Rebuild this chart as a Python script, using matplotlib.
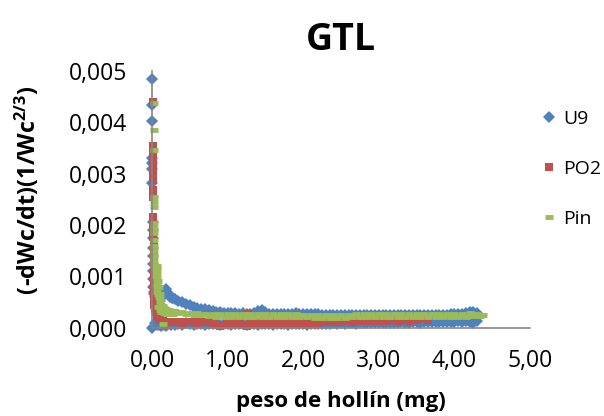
import numpy as np
import matplotlib
matplotlib.use("Agg")
import matplotlib.pyplot as plt

plt.rcParams["font.family"] = ["Open Sans", "DejaVu Sans"]
plt.rcParams["mathtext.fontset"] = "custom"
plt.rcParams["mathtext.rm"] = "Open Sans"
plt.rcParams["mathtext.bf"] = "Open Sans:bold"

# shared x grid for the flat part of the curves (mg)
tail_x = [0.30, 0.35, 0.40, 0.45, 0.50, 0.55, 0.60, 0.65, 0.70, 0.75,
          0.80, 0.85, 0.90, 0.95, 1.00, 1.05, 1.10, 1.15, 1.20, 1.25,
          1.30, 1.35, 1.40, 1.45, 1.50, 1.55, 1.60, 1.65, 1.70, 1.75,
          1.80, 1.85, 1.90, 1.95, 2.00, 2.05, 2.10, 2.15, 2.20, 2.25,
          2.30, 2.35, 2.40, 2.45, 2.50, 2.55, 2.60, 2.65, 2.70, 2.75,
          2.80, 2.85, 2.90, 2.95, 3.00, 3.05, 3.10, 3.15, 3.20, 3.25,
          3.30, 3.35, 3.40, 3.45, 3.50, 3.55, 3.60, 3.65, 3.70, 3.75,
          3.80, 3.85, 3.90, 3.95, 4.00, 4.05, 4.10, 4.15, 4.20, 4.25,
          4.30]

# U9 -- rates in units of 1e-4
u9_head_x = [0.00, 0.00, 0.00, 0.00, 0.00, 0.00, 0.00, 0.00, 0.01, 0.01,
             0.01, 0.01, 0.01, 0.01, 0.01, 0.01, 0.01, 0.02, 0.03, 0.04,
             0.05, 0.06, 0.08, 0.10, 0.12, 0.14, 0.16, 0.18, 0.20, 0.22,
             0.24, 0.26, 0.28, 0.04, 0.06, 0.09, 0.12, 0.15, 0.18, 0.21,
             0.25]
u9_head_y = [48.4, 43.4, 40.2, 33.1, 32.0, 31.0, 28.2, 0.0, 20.5, 19.0,
             17.5, 15.5, 14.0, 12.5, 11.0, 9.5, 8.0, 7.0, 6.5, 6.0,
             5.6, 5.2, 5.0, 5.2, 5.8, 6.6, 7.2, 7.5, 7.0, 6.4,
             6.0, 5.8, 5.7, 1.0, 0.6, 0.5, 0.3, 0.6, 0.4, 0.7,
             0.5]
u9_tail_hi = [5.6, 5.2, 5.0, 4.6, 4.4, 4.1, 3.9, 3.7, 3.6, 3.4,
              3.2, 3.1, 3.0, 2.9, 2.9, 2.8, 2.8, 2.7, 2.8, 2.7,
              2.7, 2.9, 3.3, 3.4, 3.0, 2.7, 2.6, 2.7, 2.6, 2.6,
              2.7, 2.6, 2.9, 2.7, 2.6, 2.6, 2.7, 2.6, 2.6, 2.5,
              2.5, 2.4, 2.5, 2.5, 2.4, 2.5, 2.5, 2.4, 2.5, 2.4,
              2.5, 2.5, 2.4, 2.5, 2.4, 2.4, 2.5, 2.4, 2.4, 2.5,
              2.4, 2.4, 2.4, 2.5, 2.4, 2.4, 2.5, 2.4, 2.4, 2.4,
              2.5, 2.5, 2.5, 2.6, 2.6, 2.7, 2.7, 2.8, 3.1, 3.0,
              2.9]
u9_tail_lo = [0.5, 0.8, 0.6, 0.9, 0.7, 0.5, 0.8, 0.7, 0.6, 0.8,
              0.7, 0.9, 0.6, 0.7, 0.8, 0.6, 0.7, 0.8, 0.7, 0.6,
              0.8, 0.7, 0.6, 0.8, 0.7, 0.8, 0.6, 0.7, 0.8, 0.7,
              0.6, 0.8, 0.7, 0.8, 0.7, 0.6, 0.7, 0.8, 0.7, 0.8,
              0.7, 0.8, 0.9, 0.8, 0.9, 0.8, 0.9, 0.9, 0.8, 0.9,
              1.0, 0.9, 0.9, 1.0, 0.9, 1.0, 1.0, 0.9, 1.0, 1.0,
              1.1, 1.0, 1.0, 1.1, 1.1, 1.0, 1.1, 1.1, 1.2, 1.1,
              1.2, 1.2, 1.1, 1.2, 1.2, 1.3, 1.2, 1.3, 1.2, 1.0,
              1.3]

# PO2
po2_head_x = [0.010, 0.010, 0.010, 0.010, 0.010, 0.010, 0.010, 0.010, 0.010, 0.010,
              0.010, 0.015, 0.015, 0.015, 0.015, 0.015, 0.015, 0.020, 0.020, 0.020,
              0.020, 0.020, 0.020, 0.020, 0.020, 0.020, 0.020, 0.025, 0.030, 0.030,
              0.035, 0.050, 0.070, 0.090, 0.110, 0.140, 0.170, 0.200, 0.230, 0.260]
po2_head_y = [44.0, 35.3, 34.5, 33.5, 32.5, 31.5, 30.5, 29.5, 28.8, 26.8,
              25.5, 21.6, 20.8, 20.0, 19.2, 18.5, 17.7, 16.5, 15.5, 14.5,
              13.5, 12.5, 11.5, 10.5, 9.5, 8.5, 7.5, 6.5, 5.5, 4.5,
              3.6, 3.0, 2.3, 1.8, 1.5, 1.3, 0.6, 1.2, 1.1, 1.2]
po2_tail_y = [1.1, 1.2, 1.0, 1.1, 1.2, 1.1, 1.0, 1.1, 1.2, 1.1,
              1.0, 0.6, 0.4, 0.5, 1.0, 1.1, 1.0, 1.1, 0.5, 0.4,
              1.0, 1.1, 1.0, 1.1, 1.0, 1.1, 1.0, 1.1, 1.0, 1.0,
              1.1, 1.0, 1.0, 1.1, 1.0, 1.0, 1.1, 1.0, 1.0, 1.1,
              1.1, 1.2, 1.2, 1.3, 1.2, 1.3, 1.3, 1.2, 1.3, 1.3,
              1.4, 1.3, 1.3, 1.4, 1.3, 1.4, 1.3, 1.4, 1.4, 1.3,
              1.4, 1.4, 1.3, 1.4, 1.4, 1.9, 2.3, 1.4]
po2_extra_x = [1.27, 3.57]
po2_extra_y = [2.6, 2.5]

# Pin
pin_head_x = [0.020, 0.020, 0.020, 0.020, 0.020, 0.020, 0.025, 0.025, 0.025, 0.025,
              0.030, 0.030, 0.030, 0.030, 0.030, 0.040, 0.050, 0.050, 0.060, 0.060,
              0.070, 0.070, 0.080, 0.090, 0.100, 0.110, 0.120, 0.140, 0.160, 0.180,
              0.200, 0.220, 0.240, 0.260, 0.280, 0.060, 0.070, 0.080, 0.080, 0.100,
              0.120, 0.150, 0.160, 0.200, 0.240, 0.280, 0.050, 0.060, 0.090, 0.110]
pin_head_y = [43.7, 38.5, 34.6, 25.5, 24.5, 23.5, 20.4, 19.5, 18.5, 17.0,
              16.0, 15.0, 14.0, 13.0, 12.0, 11.5, 11.0, 10.0, 9.5, 8.5,
              8.0, 7.0, 6.5, 6.0, 5.5, 5.0, 4.5, 4.2, 3.9, 3.7,
              3.5, 3.4, 3.3, 3.2, 3.3, 11.5, 10.5, 9.0, 4.0, 3.5,
              3.0, 0.8, 2.8, 2.7, 2.6, 2.6, 12.0, 12.0, 8.0, 6.5]
pin_tail_y = [3.2, 2.8, 3.1, 2.7, 2.9, 2.5, 2.8, 2.4, 2.7, 2.3,
              2.6, 2.1, 2.6, 2.1, 2.6, 2.0, 2.6, 2.0, 2.6, 2.0,
              2.6, 2.0, 2.6, 2.0, 2.6, 2.0, 2.6, 2.0, 2.6, 2.0,
              2.6, 2.0, 2.6, 2.0, 2.5, 2.0, 2.5, 1.9, 2.4, 1.9,
              2.4, 1.9, 2.4, 1.9, 2.5, 1.9, 2.5, 2.0, 2.6, 2.0,
              2.6, 2.0, 2.6, 2.0, 2.6, 2.0, 2.6, 2.0, 2.6, 2.0,
              2.6, 2.0, 2.6, 2.0, 2.6, 2.0, 2.6, 2.0, 2.6, 2.0,
              2.6, 2.0, 2.6, 2.0, 2.6, 2.0, 2.7, 2.1, 2.8, 2.2,
              2.6]
pin_extra_x = [4.34, 4.38]
pin_extra_y = [2.2, 2.4]

BLUE = "#4F81BD"
RED = "#C0504D"
GREEN = "#9BBB59"
AXIS = "#868686"

u9_x = u9_head_x + tail_x + tail_x
u9_y = np.array(u9_head_y + u9_tail_hi + u9_tail_lo) * 1e-4
po2_x = po2_head_x + tail_x[:len(po2_tail_y)] + po2_extra_x
po2_y = np.array(po2_head_y + po2_tail_y + po2_extra_y) * 1e-4
pin_x = pin_head_x + tail_x + pin_extra_x
pin_y = np.array(pin_head_y + pin_tail_y + pin_extra_y) * 1e-4

fig = plt.figure(figsize=(6.04, 4.16), dpi=100)
ax = fig.add_axes([0.2517, 0.2123, 0.6258, 0.617])

ax.plot(u9_x, u9_y, linestyle="none", marker="D", markersize=6.4,
        color=BLUE, markeredgewidth=0, label="U9", clip_on=False)
ax.plot(po2_x, po2_y, linestyle="none", marker="s", markersize=5.4,
        color=RED, markeredgewidth=0, label="PO2", clip_on=False)
ax.plot(pin_x, pin_y, linestyle="none", marker="_", markersize=5.5,
        color=GREEN, markeredgewidth=3.5, label="Pin", clip_on=False)

ax.set_xlim(0, 5)
ax.set_ylim(0, 0.005)
ax.set_xticks([0, 1, 2, 3, 4, 5])
ax.set_xticklabels(["0,00", "1,00", "2,00", "3,00", "4,00", "5,00"])
ax.set_yticks([0, 0.001, 0.002, 0.003, 0.004, 0.005])
ax.set_yticklabels(["0,000", "0,001", "0,002", "0,003", "0,004", "0,005"])
ax.tick_params(length=0, labelsize=16.5, colors="black")
ax.tick_params(axis="x", pad=15)
ax.tick_params(axis="y", pad=18)

for side in ("top", "right"):
    ax.spines[side].set_visible(False)
for side in ("left", "bottom"):
    ax.spines[side].set_color(AXIS)
    ax.spines[side].set_linewidth(1.2)

ax.set_title("GTL", fontsize=27, fontweight="bold", pad=15)
ax.set_xlabel("peso de hollín (mg)", fontsize=16, fontweight="bold", labelpad=13)
ax.set_ylabel(r"(-dWc/dt)(1/Wc$^{\mathbf{2/3}}$)", fontsize=16.8,
              fontweight="bold")
ax.yaxis.set_label_coords(-0.292, 0.536)

ax.legend(loc="upper left", bbox_to_anchor=(1.0085, 0.88), frameon=False,
          fontsize=14, handlelength=0.8, handletextpad=0.35, labelspacing=1.65,
          borderaxespad=0)

fig.savefig("out.png", dpi=100)
